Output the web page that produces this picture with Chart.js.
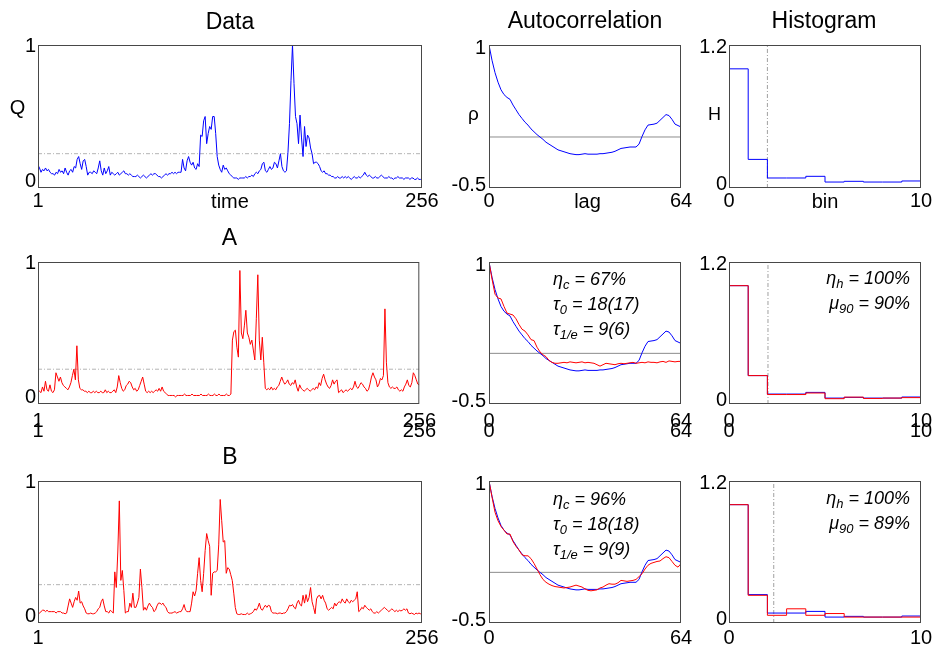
<!DOCTYPE html>
<html><head><meta charset="utf-8">
<script src="https://cdn.jsdelivr.net/npm/chart.js@4.4.1/dist/chart.umd.min.js"></script>
<style>
body{margin:0;background:#fff;}
#wrap{position:relative;width:935px;height:647px;overflow:hidden;font-family:"Liberation Sans",Arial,sans-serif;color:#000;}
.t{position:absolute;white-space:nowrap;line-height:1;}
.t sub{font-size:0.72em;vertical-align:-0.32em;line-height:0;}
canvas{position:absolute;}
</style></head><body><div id="wrap"></div>
<script>
// ---------- data ----------
const timeRange = [1, 256];
const lagRange = [0, 64];
const binRange = [0, 10];
const qRange = [0, 1];
const acfRange = [-0.5, 1];
const histRange = [0, 1.2];

const timeTicks = ['1', '256'];
const lagTicks = ['0', '64'];
const binTicks = ['0', '10'];
const qTicks = ['0', '1'];
const acfTicks = ['-0.5', '1'];
const histTicks = ['0', '1.2'];

const columnTitles = ['Data', 'Autocorrelation', 'Histogram'];
const rowTitles = ['A', 'B'];
const axisNames = ['time', 'lag', 'bin'];
const yNames = ['Q', 'ρ', 'H'];

const qData = [
0.16,0.14,0.11,0.13,0.12,0.14,0.12,0.13,0.11,0.10,
0.10,0.09,0.11,0.10,0.13,0.11,0.12,0.10,0.14,0.11,
0.09,0.12,0.13,0.11,0.15,0.14,0.20,0.22,0.17,0.13,
0.19,0.20,0.15,0.09,0.11,0.11,0.10,0.12,0.11,0.10,
0.14,0.19,0.12,0.09,0.14,0.10,0.12,0.15,0.09,0.11,
0.10,0.09,0.10,0.11,0.09,0.10,0.11,0.12,0.10,0.10,
0.09,0.10,0.09,0.08,0.08,0.08,0.09,0.08,0.07,0.08,
0.09,0.08,0.07,0.08,0.09,0.10,0.09,0.10,0.10,0.09,
0.08,0.08,0.07,0.08,0.09,0.10,0.09,0.10,0.10,0.11,
0.10,0.11,0.10,0.11,0.11,0.11,0.20,0.14,0.12,0.19,
0.22,0.18,0.16,0.18,0.14,0.13,0.17,0.15,0.37,0.36,
0.47,0.50,0.31,0.38,0.43,0.41,0.50,0.50,0.38,0.22,
0.16,0.13,0.11,0.16,0.13,0.14,0.12,0.10,0.09,0.08,
0.07,0.07,0.07,0.06,0.07,0.07,0.07,0.07,0.08,0.07,
0.08,0.08,0.09,0.08,0.10,0.11,0.10,0.12,0.13,0.17,
0.18,0.12,0.11,0.13,0.15,0.13,0.14,0.18,0.17,0.14,
0.19,0.24,0.15,0.12,0.11,0.12,0.25,0.45,0.75,1.00,
0.73,0.50,0.45,0.31,0.51,0.35,0.22,0.43,0.29,0.37,
0.35,0.28,0.24,0.17,0.18,0.18,0.17,0.15,0.12,0.11,
0.12,0.10,0.10,0.09,0.09,0.08,0.08,0.07,0.07,0.08,
0.07,0.07,0.08,0.07,0.08,0.07,0.08,0.07,0.06,0.07,
0.08,0.07,0.07,0.08,0.07,0.08,0.09,0.11,0.09,0.08,
0.09,0.08,0.07,0.07,0.08,0.07,0.07,0.08,0.09,0.08,
0.07,0.07,0.07,0.08,0.07,0.07,0.06,0.07,0.07,0.08,
0.07,0.07,0.07,0.06,0.07,0.07,0.07,0.06,0.07,0.07,
0.06,0.06,0.07,0.06,0.06,0.07];

const qA = [
0.08,0.09,0.08,0.12,0.09,0.16,0.10,0.09,0.135,0.09,
0.08,0.10,0.22,0.19,0.16,0.19,0.15,0.13,0.12,0.11,
0.10,0.12,0.15,0.20,0.245,0.17,0.41,0.17,0.11,0.10,
0.10,0.09,0.09,0.08,0.09,0.08,0.08,0.09,0.08,0.09,
0.08,0.08,0.09,0.08,0.08,0.10,0.08,0.09,0.08,0.08,
0.09,0.10,0.08,0.12,0.20,0.15,0.11,0.09,0.10,0.13,
0.14,0.16,0.15,0.12,0.10,0.11,0.09,0.10,0.13,0.16,
0.19,0.14,0.09,0.08,0.09,0.08,0.09,0.08,0.09,0.10,
0.09,0.11,0.09,0.12,0.09,0.08,0.07,0.06,0.06,0.06,
0.06,0.06,0.05,0.06,0.06,0.06,0.06,0.06,0.07,0.06,
0.06,0.06,0.06,0.07,0.06,0.06,0.06,0.06,0.06,0.07,
0.06,0.06,0.06,0.06,0.07,0.06,0.06,0.06,0.07,0.06,
0.06,0.07,0.06,0.06,0.06,0.06,0.07,0.06,0.06,0.07,
0.45,0.51,0.52,0.40,0.33,0.94,0.50,0.46,0.55,0.66,
0.50,0.47,0.42,0.45,0.38,0.31,0.60,0.91,0.45,0.31,
0.47,0.29,0.11,0.10,0.11,0.10,0.12,0.10,0.11,0.10,
0.12,0.13,0.16,0.19,0.16,0.14,0.15,0.17,0.14,0.13,
0.15,0.14,0.17,0.12,0.09,0.135,0.11,0.10,0.09,0.10,
0.11,0.10,0.09,0.10,0.11,0.10,0.12,0.11,0.15,0.13,
0.18,0.21,0.17,0.14,0.12,0.11,0.13,0.17,0.14,0.16,
0.17,0.08,0.09,0.10,0.08,0.09,0.10,0.09,0.10,0.11,
0.10,0.12,0.16,0.12,0.11,0.13,0.15,0.14,0.12,0.11,
0.09,0.10,0.14,0.19,0.22,0.19,0.17,0.12,0.14,0.18,
0.17,0.20,0.67,0.29,0.15,0.12,0.11,0.12,0.11,0.11,
0.12,0.10,0.09,0.10,0.09,0.12,0.14,0.17,0.13,0.12,
0.15,0.22,0.20,0.17,0.14,0.135];

const qB = [
0.065,0.07,0.08,0.09,0.09,0.08,0.09,0.08,0.08,0.08,
0.08,0.08,0.07,0.08,0.08,0.08,0.07,0.07,0.065,0.07,
0.12,0.17,0.14,0.11,0.15,0.18,0.16,0.225,0.14,0.15,
0.12,0.10,0.07,0.065,0.065,0.07,0.065,0.065,0.07,0.08,
0.10,0.11,0.15,0.17,0.12,0.08,0.08,0.07,0.09,0.08,
0.07,0.36,0.25,0.50,0.86,0.30,0.37,0.23,0.07,0.08,
0.08,0.14,0.11,0.21,0.11,0.11,0.14,0.18,0.38,0.25,
0.09,0.11,0.09,0.12,0.14,0.12,0.11,0.08,0.09,0.12,
0.14,0.14,0.13,0.14,0.12,0.11,0.08,0.07,0.07,0.07,
0.075,0.08,0.07,0.075,0.08,0.08,0.10,0.13,0.09,0.08,
0.08,0.08,0.14,0.22,0.19,0.23,0.35,0.46,0.30,0.22,
0.35,0.51,0.63,0.58,0.54,0.195,0.35,0.36,0.36,0.37,
0.55,0.87,0.72,0.57,0.58,0.35,0.39,0.38,0.34,0.30,
0.21,0.11,0.065,0.06,0.06,0.065,0.06,0.06,0.06,0.07,
0.06,0.065,0.07,0.08,0.10,0.09,0.11,0.14,0.10,0.09,
0.11,0.125,0.11,0.125,0.12,0.08,0.07,0.07,0.07,0.065,
0.07,0.07,0.065,0.07,0.07,0.08,0.10,0.125,0.12,0.13,
0.11,0.10,0.14,0.16,0.13,0.12,0.195,0.14,0.20,0.15,
0.18,0.25,0.15,0.11,0.065,0.17,0.19,0.195,0.17,0.195,
0.16,0.14,0.10,0.09,0.10,0.11,0.10,0.14,0.12,0.14,
0.15,0.14,0.17,0.15,0.14,0.17,0.15,0.14,0.16,0.15,
0.16,0.17,0.22,0.08,0.09,0.11,0.10,0.125,0.11,0.10,
0.09,0.10,0.08,0.07,0.07,0.08,0.07,0.08,0.09,0.10,
0.11,0.10,0.09,0.08,0.09,0.10,0.09,0.08,0.09,0.08,
0.09,0.085,0.09,0.10,0.09,0.10,0.07,0.065,0.07,0.065,
0.06,0.07,0.065,0.07,0.065,0.065];

const acfData = [
1.00,0.84,0.71,0.61,0.53,0.48,0.45,0.43,0.37,0.32,
0.27,0.23,0.19,0.16,0.12,0.09,0.06,0.035,0.01,-0.02,
-0.04,-0.06,-0.08,-0.10,-0.11,-0.12,-0.13,-0.14,-0.145,-0.15,
-0.15,-0.145,-0.14,-0.145,-0.145,-0.145,-0.145,-0.14,-0.14,-0.135,
-0.13,-0.125,-0.115,-0.10,-0.085,-0.08,-0.075,-0.07,-0.07,-0.07,
-0.04,0.04,0.11,0.16,0.165,0.17,0.18,0.21,0.24,0.27,
0.26,0.22,0.17,0.155,0.14];

const acfA = [
1.00,0.82,0.66,0.62,0.61,0.53,0.46,0.45,0.44,0.40,
0.34,0.29,0.27,0.23,0.18,0.17,0.10,0.05,0.02,0.00,
-0.04,-0.06,-0.07,-0.07,-0.065,-0.06,-0.065,-0.055,-0.06,-0.065,
-0.06,-0.055,-0.065,-0.06,-0.065,-0.07,-0.085,-0.10,-0.085,-0.07,
-0.075,-0.08,-0.085,-0.075,-0.07,-0.075,-0.07,-0.065,-0.06,-0.07,
-0.065,-0.06,-0.065,-0.055,-0.06,-0.06,-0.065,-0.055,-0.05,-0.06,
-0.045,-0.05,-0.055,-0.05,-0.05];

const acfB = [
1.00,0.83,0.67,0.58,0.52,0.48,0.44,0.44,0.36,0.31,
0.27,0.22,0.21,0.21,0.18,0.13,0.07,0.01,-0.04,-0.07,
-0.09,-0.105,-0.115,-0.12,-0.125,-0.13,-0.125,-0.12,-0.11,-0.10,
-0.11,-0.12,-0.14,-0.155,-0.16,-0.155,-0.15,-0.13,-0.12,-0.10,
-0.085,-0.09,-0.09,-0.075,-0.05,-0.055,-0.06,-0.055,-0.05,-0.04,
-0.01,0.02,0.07,0.11,0.13,0.14,0.15,0.155,0.18,0.20,
0.19,0.15,0.11,0.09,0.127];

const histData = [1.00,0.24,0.084,0.084,0.098,0.05,0.056,0.05,0.05,0.059];
const histA = [1.00,0.24,0.08,0.08,0.093,0.045,0.058,0.047,0.05,0.054];
const histB = [1.00,0.234,0.065,0.12,0.065,0.08,0.05,0.05,0.05,0.05];

const qThreshold = [0.24, 0.245, 0.27];
const acfReference = 0.035;
const histCut = [2.0, 2.03, 2.33];

const acfNotes = [
  ['η<sub>c</sub> = 67%', 'τ<sub>0</sub> = 18(17)', 'τ<sub>1/e</sub> = 9(6)'],
  ['η<sub>c</sub> = 96%', 'τ<sub>0</sub> = 18(18)', 'τ<sub>1/e</sub> = 9(9)']];
const histNotes = [
  ['η<sub>h</sub> = 100%', 'μ<sub>90</sub> = 90%'],
  ['η<sub>h</sub> = 100%', 'μ<sub>90</sub> = 89%']];

// ---------- layout ----------
const wrap = document.getElementById('wrap');
const FONT = "'Liberation Sans', Arial, sans-serif";
const BLUE = '#0000ff', RED = '#ff0000';
const cols = [{x:38,w:384},{x:489,w:192},{x:729,w:192}];
const rows = [{y:45,h:143},{y:262,h:142},{y:481,h:142}];
const YW = 60, XH = 50, PT = 16, PR = 26;

const boxPlugin = {
  id:'box',
  afterDraw(chart){
    const {ctx, chartArea:a} = chart;
    ctx.save(); ctx.strokeStyle = '#484848'; ctx.lineWidth = 1;
    ctx.strokeRect(a.left+0.5, a.top+0.5, a.right-a.left-1, a.bottom-a.top-1);
    ctx.restore();
  }
};

function line(points, color, extra){
  return Object.assign({data:points, borderColor:color, borderWidth:1, pointRadius:0,
    fill:false, tension:0}, extra||{});
}
const series = (arr, x0) => arr.map((v,i)=>({x:x0+i, y:v}));
const steps = arr => arr.map((v,i)=>({x:i,y:v})).concat([{x:arr.length,y:arr[arr.length-1]}]);

function panel(r, c, datasets, xr, yr, xLabels, yLabels, inset, yPad){
  const rect = {x:cols[c].x, y:rows[r].y, w:cols[c].w, h:rows[r].h};
  const canvas = document.createElement('canvas');
  canvas.width = rect.w + YW + PR; canvas.height = rect.h + PT + XH;
  canvas.style.left = (rect.x - YW)+'px'; canvas.style.top = (rect.y - PT)+'px';
  wrap.appendChild(canvas);
  const xPad = [1,12,3][r], xLH = r===1 ? 0.5 : 1.2;
  const yIns = [inset[1]/rect.h*(yr[1]-yr[0]), inset[0]/rect.h*(yr[1]-yr[0])];
  new Chart(canvas, {
    type:'line',
    data:{datasets},
    plugins:[boxPlugin],
    options:{
      responsive:false, animation:false, devicePixelRatio:1,
      layout:{padding:{top:PT, right:PR, left:0, bottom:0}},
      plugins:{legend:{display:false}, tooltip:{enabled:false}},
      scales:{
        x:{type:'linear', min:xr[0], max:xr[1], bounds:'data',
          border:{display:false}, grid:{display:false, drawTicks:false},
          ticks:{padding:xPad, color:'#000', autoSkip:false, maxRotation:0,
            font:{family:FONT, size:20, lineHeight:xLH},
            callback:(v,i)=> r===1 ? [xLabels[i], xLabels[i]] : xLabels[i]},
          afterBuildTicks:s=>{ s.ticks=[{value:xr[0]},{value:xr[1]}]; },
          afterFit:s=>{ s.height = XH; }},
        y:{type:'linear', min:yr[0], max:yr[1], bounds:'data',
          border:{display:false}, grid:{display:false, drawTicks:false},
          ticks:{padding:yPad, color:'#000', autoSkip:false,
            font:{family:FONT, size:20}, callback:(v,i)=>yLabels[i]},
          afterBuildTicks:s=>{ s.ticks=[{value:yr[0]+yIns[0]},{value:yr[1]-yIns[1]}]; },
          afterFit:s=>{ s.width = YW; }}
      }
    }
  });
}

const qSeries = [qData, qA, qB];
const acfSeries = [acfData, acfA, acfB];
const histSeries = [histData, histA, histB];
const dash = [4,2,1,2];

for (let r=0;r<3;r++){
  const col = r===0 ? BLUE : RED;
  panel(r,0,[
    line(series(qSeries[r], timeRange[0]), col),
    line([{x:timeRange[0],y:qThreshold[r]},{x:timeRange[1],y:qThreshold[r]}], '#b4b4b4', {borderDash:dash})
  ], timeRange, qRange, timeTicks, qTicks, [1.7,6.5], 2);
  const acfSets = [];
  if (r>0) acfSets.push(line(series(acfSeries[r], lagRange[0]), RED));
  acfSets.push(line(series(acfData, lagRange[0]), BLUE));
  acfSets.push(line([{x:lagRange[0],y:acfReference},{x:lagRange[1],y:acfReference}], '#8c8c8c'));
  panel(r,1,acfSets, lagRange, acfRange, lagTicks, acfTicks, [3.5,3], 3);
  const hSets = [];
  if (r>0) hSets.push(line(steps(histSeries[r]), RED, {stepped:'before'}));
  hSets.push(line(steps(histData), BLUE, {stepped:'before'}));
  hSets.push(line([{x:histCut[r],y:histRange[0]},{x:histCut[r],y:histRange[1]}], '#a0a0a0', {borderDash:dash}));
  panel(r,2,hSets, binRange, histRange, binTicks, histTicks, [2.5,4], 2);
}

// ---------- text ----------
function txt(html, x, base, size, align, italic){
  const d = document.createElement('div'); d.className='t'; d.innerHTML = html;
  d.style.fontSize = size+'px'; d.style.top = (base - 0.8465*size)+'px';
  if (italic) d.style.fontStyle = 'italic';
  if (align==='center'){ d.style.left = x+'px'; d.style.transform='translateX(-50%)'; }
  else if (align==='right'){ d.style.right = (935-x)+'px'; }
  else d.style.left = x+'px';
  wrap.appendChild(d);
}
txt(columnTitles[0], 230, 29, 23, 'center');
txt(columnTitles[1], 585, 28.5, 23, 'center');
txt(columnTitles[2], 824, 28.5, 23, 'center');
txt(rowTitles[0], 229.5, 245.5, 23, 'center');
txt(rowTitles[1], 230, 464, 23, 'center');
txt(axisNames[0], 230, 208, 20, 'center');
txt(axisNames[1], 587.5, 208, 20, 'center');
txt(axisNames[2], 825, 208, 20, 'center');
txt(yNames[0], 17.5, 114, 20, 'center');
txt(yNames[1], 473.5, 120, 19, 'center');
txt(yNames[2], 714.5, 120, 18, 'center');
const acfBase = [[285,310,335],[505,530,555]];
const histBase = [[284,309],[504,529]];
for (let k=0;k<2;k++){
  acfNotes[k].forEach((h,i)=>txt(h, 553, acfBase[k][i], 18, 'left', true));
  histNotes[k].forEach((h,i)=>txt(h, 910, histBase[k][i], 18, 'right', true));
}
</script></body></html>
